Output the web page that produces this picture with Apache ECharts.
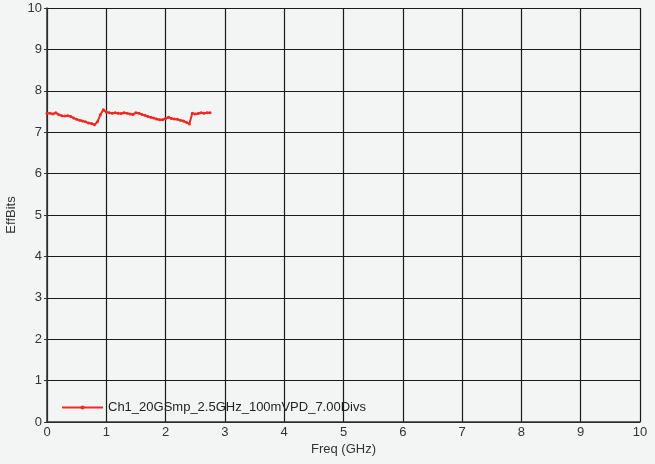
<!DOCTYPE html>
<html>
<head>
<meta charset="utf-8">
<script src="https://cdn.jsdelivr.net/npm/echarts@6/dist/echarts.min.js"></script>
<style>
  html, body { margin: 0; padding: 0; background: #f3f5f5; }
  #chart { width: 655px; height: 464px; }
</style>
</head>
<body>
<div id="chart"></div>
<script>
// frequency (GHz) and effective bits
const freq = [
  0.0, 0.05, 0.1, 0.15, 0.2, 0.25, 0.3, 0.35, 0.4, 0.45,
  0.5, 0.55, 0.6, 0.65, 0.7, 0.75, 0.8, 0.85, 0.9, 0.95,
  1.0, 1.05, 1.1, 1.15, 1.2, 1.25, 1.3, 1.35, 1.4, 1.45,
  1.5, 1.55, 1.6, 1.65, 1.7, 1.75, 1.8, 1.85, 1.9, 1.95,
  2.0, 2.05, 2.1, 2.15, 2.2, 2.25, 2.3, 2.35, 2.4, 2.45,
  2.5, 2.55, 2.6, 2.65, 2.7, 2.75
]
const effBits = [
  7.46, 7.46, 7.44, 7.47, 7.42, 7.40, 7.39, 7.40, 7.38, 7.34,
  7.31, 7.29, 7.27, 7.25, 7.22, 7.21, 7.18, 7.25, 7.42, 7.54,
  7.49, 7.47, 7.46, 7.47, 7.46, 7.45, 7.47, 7.46, 7.44, 7.43,
  7.47, 7.46, 7.43, 7.41, 7.38, 7.36, 7.34, 7.32, 7.30, 7.30,
  7.33, 7.36, 7.33, 7.32, 7.31, 7.29, 7.27, 7.24, 7.20, 7.46,
  7.44, 7.45, 7.47, 7.46, 7.47, 7.47
]
const seriesName = 'Ch1_20GSmp_2.5GHz_100mVPD_7.00Divs'

const chartDom = document.getElementById('chart')
const myChart = echarts.init(chartDom)
const axisText = { color: '#333', fontSize: 13, fontFamily: 'Liberation Sans, Arial, sans-serif' }

const option = {
  animation: false,
  backgroundColor: '#f3f5f5',
  grid: { left: 47, top: 8, right: 15, bottom: 42, outerBoundsMode: 'none' },
  legend: {
    left: 56,
    top: 396,
    itemWidth: 41,
    itemHeight: 5,
    itemGap: 4,
    textStyle: { color: '#222', fontSize: 13, fontFamily: 'Liberation Sans, Arial, sans-serif' },
    data: [seriesName]
  },
  xAxis: {
    type: 'value',
    min: 0,
    max: 10,
    interval: 1,
    name: 'Freq (GHz)',
    nameLocation: 'middle',
    nameGap: 21,
    nameMoveOverlap: false,
    nameTextStyle: axisText,
    axisLine: { lineStyle: { color: '#333', width: 1.5 } },
    axisTick: { show: false },
    axisLabel: Object.assign({ margin: 4 }, axisText),
    splitLine: { lineStyle: { color: '#1a1a1a', width: 1.2 } }
  },
  yAxis: {
    type: 'value',
    min: 0,
    max: 10,
    interval: 1,
    name: 'EffBits',
    nameLocation: 'middle',
    nameGap: 29,
    nameMoveOverlap: false,
    nameTextStyle: axisText,
    axisLine: { show: true, lineStyle: { color: '#333', width: 1.5 } },
    axisTick: { show: true, length: 3, lineStyle: { color: '#333' } },
    axisLabel: Object.assign({ margin: 5 }, axisText),
    splitLine: { lineStyle: { color: '#1a1a1a', width: 1.2 } }
  },
  series: [
    {
      name: seriesName,
      type: 'line',
      data: freq.map((f, i) => [f, effBits[i]]),
      color: '#ee2a22',
      symbol: 'circle',
      symbolSize: 3,
      showAllSymbol: true,
      lineStyle: { width: 2, color: '#ee2a22' },
      itemStyle: { color: '#ee2a22' }
    }
  ]
}

myChart.setOption(option)
</script>
</body>
</html>
